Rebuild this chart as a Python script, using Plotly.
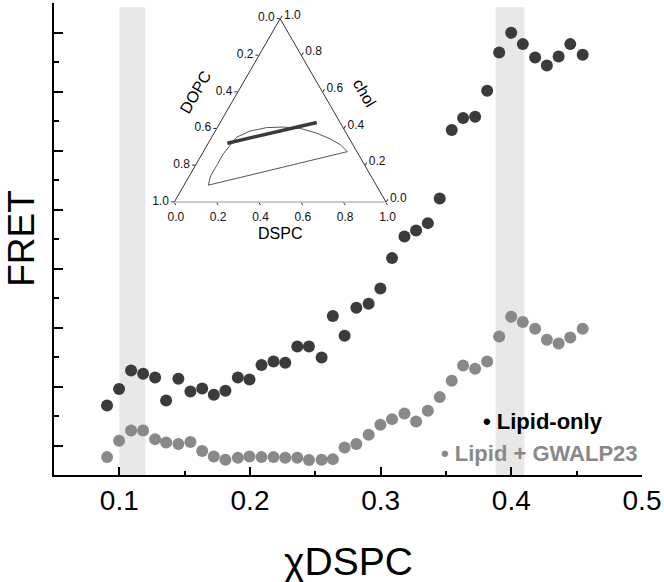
import plotly.graph_objects as go

# ---------------- main data ----------------
x_dspc = [0.0906, 0.0998, 0.1090, 0.1182, 0.1274, 0.1358, 0.1452, 0.1544, 0.1634, 0.1723,
          0.1812, 0.1907, 0.1996, 0.2088, 0.2180, 0.2270, 0.2362, 0.2451, 0.2548, 0.2634,
          0.2724, 0.2814, 0.2908, 0.2998, 0.3087, 0.3182, 0.3271, 0.3361, 0.3452, 0.3544,
          0.3631, 0.3723, 0.3815, 0.3907, 0.3999, 0.4088, 0.4182, 0.4272, 0.4362, 0.4451,
          0.4546]
fret_lipid = [0.1678, 0.1956, 0.2271, 0.2215, 0.2153, 0.1763, 0.2131, 0.1915, 0.1966, 0.1859,
              0.1927, 0.2153, 0.2119, 0.2363, 0.2424, 0.2402, 0.2678, 0.2678, 0.2492, 0.3193,
              0.2859, 0.3334, 0.3402, 0.3661, 0.4176, 0.4542, 0.4644, 0.4769, 0.5186, 0.6346,
              0.6549, 0.6571, 0.7012, 0.7661, 0.7995, 0.7803, 0.7576, 0.7441, 0.7593, 0.7803,
              0.7622]
fret_gwalp = [0.0803, 0.1080, 0.1254, 0.1254, 0.1108, 0.1051, 0.1024, 0.1058, 0.0905, 0.0814,
              0.0758, 0.0792, 0.0814, 0.0803, 0.0803, 0.0792, 0.0792, 0.0753, 0.0758, 0.0769,
              0.0966, 0.1024, 0.1181, 0.1351, 0.1447, 0.1542, 0.1407, 0.1588, 0.1820, 0.2097,
              0.2356, 0.2300, 0.2424, 0.2847, 0.3181, 0.3092, 0.2978, 0.2792, 0.2729, 0.2831,
              0.2978]
bands = [(0.100, 0.120), (0.388, 0.410)]
x_ticks = [0.1, 0.2, 0.3, 0.4, 0.5]
series_names = ["Lipid-only", "Lipid + GWALP23"]

# ---------------- inset (ternary) data ----------------
arc_chol = [0.092, 0.143, 0.198, 0.263, 0.354, 0.387, 0.406, 0.409, 0.402, 0.376, 0.345, 0.314, 0.275, 0.092]
arc_dspc = [0.115, 0.100, 0.101, 0.100, 0.118, 0.164, 0.233, 0.310, 0.393, 0.484, 0.563, 0.626, 0.680, 0.115]
traj_chol = [0.321, 0.434]
traj_dspc = [0.090, 0.456]
tern_vals = [0, 0.2, 0.4, 0.6, 0.8, 1.0]
tern_text = ["1.0", "0.8", "0.6", "0.4", "0.2", "0.0"]

DARK = "#3b3b3b"
GRAY = "#898989"
FONT = "Liberation Sans, Arial, sans-serif"

fig = go.Figure()

fig.add_trace(go.Scatter(x=x_dspc, y=fret_lipid, mode="markers", name=series_names[0],
                         marker=dict(size=12, color=DARK), showlegend=False))
fig.add_trace(go.Scatter(x=x_dspc, y=fret_gwalp, mode="markers", name=series_names[1],
                         marker=dict(size=12, color=GRAY), showlegend=False))

for b0, b1 in bands:
    fig.add_shape(type="rect", xref="x", yref="y", x0=b0, x1=b1, y0=0.05, y1=0.843,
                  fillcolor="#e8e8e8", line=dict(width=0), layer="below")

# inset
fig.add_trace(go.Scatterternary(a=arc_chol, c=arc_dspc, mode="lines",
                                line=dict(color="#555555", width=1), showlegend=False,
                                subplot="ternary"))
fig.add_trace(go.Scatterternary(a=traj_chol, c=traj_dspc, mode="lines",
                                line=dict(color="#3a3a3a", width=3.5), showlegend=False,
                                subplot="ternary"))

tern_axis = dict(tickmode="array", tickvals=tern_vals, ticktext=tern_text,
                 showgrid=False, ticks="outside", ticklen=3, tickwidth=1,
                 tickcolor="#333", linecolor="#333", linewidth=1,
                 tickfont=dict(family=FONT, size=12, color="#111"), title=dict(text=""))

fig.update_layout(
    width=664, height=582,
    margin=dict(l=54, r=22, t=3, b=107),
    paper_bgcolor="white", plot_bgcolor="white",
    font=dict(family=FONT, color="black"),
    xaxis=dict(range=[0.05, 0.5], tickvals=x_ticks, ticktext=[f"{v:.1f}" for v in x_ticks],
               ticks="inside", ticklen=8, tickwidth=1.5, tickcolor="black",
               showline=True, linecolor="black", linewidth=1.5,
               showgrid=False, zeroline=False,
               tickfont=dict(size=28, family=FONT, color="black"),
               minor=dict(tickvals=[0.05, 0.15, 0.25, 0.35, 0.45], ticks="inside",
                          ticklen=4, tickwidth=1.5, tickcolor="black")),
    yaxis=dict(range=[0.05, 0.85], tick0=0, dtick=0.1,
               ticks="inside", ticklen=9, tickwidth=1.5, tickcolor="black",
               showline=True, linecolor="black", linewidth=1.5,
               showgrid=False, zeroline=False, showticklabels=False,
               minor=dict(dtick=0.05, tick0=0.05, ticks="inside", ticklen=5,
                          tickwidth=1.5, tickcolor="black")),
    ternary=dict(domain=dict(x=[0.2046, 0.5646], y=[0.578, 0.967]),
                 bgcolor="rgba(0,0,0,0)", sum=1,
                 aaxis=tern_axis, baxis=dict(tern_axis, linecolor="#999"),
                 caxis=tern_axis),
)

ann = [
    dict(text="FRET", x=-0.0565, y=0.502, textangle=-90, font=dict(size=37), borderpad=0),
    dict(text="χDSPC", x=0.5, y=-0.184, font=dict(size=39)),
    dict(text="DSPC", x=0.3844, y=0.5106, font=dict(size=16)),
    dict(text="DOPC", x=0.2398, y=0.8114, textangle=-60, font=dict(size=16)),
    dict(text="chol", x=0.5289, y=0.8093, textangle=60, font=dict(size=16)),
]
for a in ann:
    fig.add_annotation(xref="paper", yref="paper", showarrow=False,
                       xanchor="center", yanchor="middle", **a)

fig.add_annotation(xref="paper", yref="paper", x=0.726, y=0.1123, xanchor="left",
                   yanchor="middle", showarrow=False,
                   text="<b>• " + series_names[0] + "</b>",
                   font=dict(size=22, color="black"))
fig.add_annotation(xref="paper", yref="paper", x=0.6548, y=0.0466, xanchor="left",
                   yanchor="middle", showarrow=False,
                   text="<b>• " + series_names[1] + "</b>",
                   font=dict(size=22, color=GRAY))

fig.write_html("out.html", config={"displayModeBar": False},
               post_script="document.body.style.margin='0px';document.body.style.overflow='hidden';")
